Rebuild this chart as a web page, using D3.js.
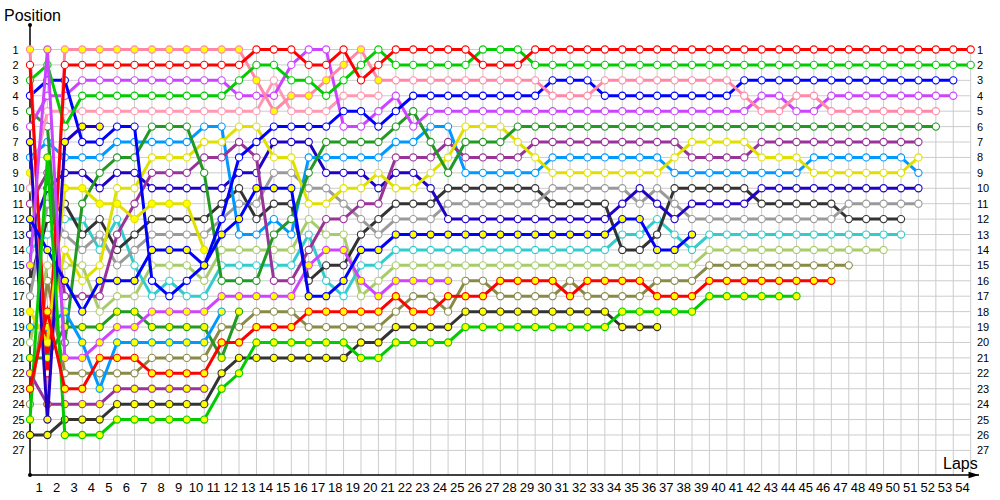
<!DOCTYPE html>
<html>
<head>
<meta charset="utf-8">
<script src="https://cdn.jsdelivr.net/npm/d3@7"></script>
<style>
  body { margin: 0; background: #fff; }
  svg { display: block; }
  text { font-family: "Liberation Sans", Arial, sans-serif; fill: #000; }
</style>
</head>
<body>
<svg id="chart" width="1000" height="500"></svg>
<script>
// lap-by-lap race position of every car, index = lap (0 = grid)
const lapCount = 54;
const maxPos = 27;

const pinkA   = [1,24,1,1,1,1,1,1,1,1,1,1,1, 3,5,4,4,3,2,1,3,3,3,3,3,3, 3,3,3,3,4,4,4,3,3,3,3,3,3,3,3, 4,5,5,4,4,5,5,5,5,5,5,5];
const red     = [2,22,2,2,2,2,2,2,2,2,2,2,2, 1,1,1,2,2,1,3,2,1,1,1,1,1, 2,2,2,1,1,1,1,1,1,1,1,1,1,1,1, 1,1,1,1,1,1,1,1,1,1,1,1,1,1];
const green   = [3,2,6,4,4,4,4,4,4,4,4,4,3, 2,2,3,3,4,3,2,1,2,2,2,2,2, 1,1,1,2,2,2,2,2,2,2,2,2,2,2,2, 2,2,2,2,2,2,2,2,2,2,2,2,2,2];
const magenta = [6,4,4,3,3,3,3,3,3,3,3,3,4, 4,4,2,1,1,6,6,5,4,6,5,5,5, 5,5,5,5,5,5,5,5,5,5,5,5,5,5,5, 5,4,4,5,5,4,4,4,4,4,4,4,4];
const pinkB   = [10,5,5,5,5,5,5,5,5,5,5,5,5, 5,3,5,5,5,4,4,4];
const blue    = [4,3,3,7,7,6,6,16,17,16,15,12,8, 7,6,6,6,6,5,5,6,5,4,4,4,4, 4,4,4,4,3,3,3,4,4,4,4,4,4,4,4, 3,3,3,3,3,3,3,3,3,3,3,3,3];
const dkGreen = [5,6,20,11,9,8,8,6,6,6,9,16,16, 16,13,12,9,7,7,7,7,6,5,7,9,7, 7,7,6,6,6,6,6,6,6,6,6,6,6,6,6, 6,6,6,6,6,6,6,6,6,6,6,6];
const yellow  = [9,20,14,16,15,10,10,8,8,8,7,7,6, 6,8,8,11,11,10,10,9,10,10,9,8,6, 6,6,7,8,9,9,9,9,9,9,9,8,7,7,7, 7,8,8,8,9,9,9,9,9,9,8];
const purple  = [11,9,17,17,17,13,11,9,9,9,8,8,7, 8,16,16,14,12,12,11,11,8,8,8,7,8, 8,8,8,7,7,7,7,7,7,7,7,7,8,8,8, 8,7,7,7,7,7,7,7,7,7,7];
const ltBlue  = [8,7,8,8,8,7,7,7,7,7,6,6,13, 13,12,13,8,8,8,8,8,7,7,6,6,9, 9,9,9,9,8,8,8,8,8,8,8,9,9,9,9, 9,9,9,9,8,8,8,8,8,8,9];
const navy    = [13,10,9,9,10,9,9,10,10,10,10,10,9, 9,7,7,7,9,9,9,10,9,9,10,12,12, 12,12,12,12,12,12,12,12,11,10,11,12,11,11,11, 11,10,10,10,10,10,10,10,10,10,10];
const gray    = [17,11,13,14,13,15,14,13,13,13,13,12,11, 11,9,9,10,10,11,12,13,12,12,12,11,11, 11,11,11,11,10,10,10,10,10,11,10,11,12,12,12, 12,12,12,12,12,12,11,11,11,11,11];
const dkGray  = [16,12,11,13,12,14,13,12,12,12,12,11,10, 12,11,11,16,15,15,13,12,11,11,11,10,10, 10,10,10,10,11,11,11,11,14,14,13,10,10,10,10, 10,11,11,11,11,11,12,12,12,12];
const cyan    = [14,13,12,12,14,12,15,17,16,17,17,15,15, 15,15,15,13,16,17,15,15,14,14,14,14,14, 14,14,14,14,14,14,14,14,13,13,12,13,14,13,13, 13,13,13,13,13,13,13,13,13,13];
const ltGreen = [20,15,15,15,18,17,17,15,15,15,16,14,14, 14,14,14,12,13,13,17,16,15,15,15,15,15, 15,15,15,15,15,15,15,15,15,15,15,15,15,14,14, 14,14,14,14,14,14,14,14,14];
const olive   = [24,16,22,22,22,22,22,21,21,21,21,19,19, 18,18,18,19,19,19,19,19,18,17,17,18,16, 16,17,17,17,17,16,17,17,17,17,16,16,16,15,15, 15,15,15,15,15,15,15];
const redY    = [23,18,23,23,21,21,21,22,22,22,22,20,20, 19,19,19,18,18,18,18,18,17,18,18,17,17, 17,16,16,16,16,17,16,16,16,16,17,17,17,16,16, 16,16,16,16,16,16];
const greenY  = [25,8,26,26,26,25,25,25,25,25,25,23,22, 20,20,20,20,20,20,21,21,20,20,20,20,19, 19,19,19,19,19,19,19,19,18,18,18,18,18,17,17, 17,17,17,17];
const blueY   = [12,14,16,18,16,16,16,14,14,14,15,13,12, 10,10,10,17,17,16,14,14,13,13,13,13,13, 13,13,13,13,13,13,13,13,12,12,14,14,13];
const dkGrayY = [26,26,25,25,25,24,24,24,24,24,24,22,21, 21,21,21,21,21,21,20,20,19,19,19,19,18, 18,18,18,18,18,18,18,18,19,19,19];
const magY    = [15,1,21,21,20,19,19,18,18,18,18,17,17, 17,17,17,15,14,14,16,17,16,16,16,16];
const navyY   = [7,25,7,6,6];
const yelY    = [18,20,10,10,11,11,12,11,11,11,14];
const ltBlueY = [19,19,18,20,23,20,20,20,20,20,20,18];
const dkGreenY= [21,21,19,19,19,18,18,19,19,19,19,21,18];
const purpleY = [22,24,24,24,24,23,23,23,23,23,23];

// series, colours and the laps shown with a yellow marker
const series  = [olive, ltGreen, cyan, dkGray, gray, navy, ltBlue, purple, yellow, dkGreen,
                 pinkB, magenta, blue, pinkA, green, red,
                 purpleY, dkGreenY, ltBlueY, yelY, navyY, magY, dkGrayY, blueY, greenY, redY];
const colors  = ["#8a8a48","#a9cc6a","#33cccc","#333333","#9a9a9a","#1f00c8","#0099ff","#993399","#e0e000","#229922",
                 "#ff99b4","#cc44ff","#0000ff","#ff88a8","#00cc00","#ff0000",
                 "#993399","#229922","#0099ff","#e0e000","#1f00c8","#cc44ff","#333333","#0000ff","#00cc00","#ff0000"];
const yellowFrom = [null,null,null,null,null,null,null,null,0,null,
                    null,null,null,0,null,null,
                    0,0,0,0,0,0,0,0,0,0];
const yellowTo   = [null,null,null,null,null,null,null,null,0,null,
                    null,null,null,20,null,null,
                    99,99,99,99,99,99,99,99,99,99];

const svg = d3.select("#chart");
const x = d3.scaleLinear().domain([0, lapCount]).range([30, 970.7]);
const y = d3.scaleLinear().domain([1, maxPos]).range([49.5, 450.4]);
const axisY = 475;

// grid
const grid = svg.append("g").attr("stroke", "#cccccc").attr("stroke-width", 1);
grid.selectAll("line.v").data(d3.range(0, lapCount + 1)).enter().append("line")
  .attr("x1", d => x(d)).attr("x2", d => x(d))
  .attr("y1", y(1) - 2).attr("y2", axisY);
grid.selectAll("line.h").data(d3.range(1, maxPos + 1)).enter().append("line")
  .attr("x1", x(0)).attr("x2", x(lapCount))
  .attr("y1", d => y(d)).attr("y2", d => y(d));

// position labels, left and right
const leftAxis = d3.axisRight(y).tickValues(d3.range(1, maxPos + 1)).tickSize(0).tickPadding(0);
svg.append("g").attr("transform", "translate(12.5,0)").call(leftAxis)
  .call(g => g.select(".domain").remove())
  .selectAll("text").attr("font-size", 11).attr("font-family", "Liberation Sans");
const rightAxis = d3.axisRight(y).tickValues(d3.range(1, maxPos + 1)).tickSize(0).tickPadding(0);
svg.append("g").attr("transform", "translate(977,0)").call(rightAxis)
  .call(g => g.select(".domain").remove())
  .selectAll("text").attr("font-size", 11).attr("font-family", "Liberation Sans");

// lap labels sit between the grid lines
const lapAxis = d3.axisBottom(x).tickValues(d3.range(0.5, lapCount, 1))
  .tickFormat(d => d + 0.5).tickSize(0).tickPadding(8);
svg.append("g").attr("transform", "translate(0," + axisY + ")").call(lapAxis)
  .call(g => g.select(".domain").remove())
  .selectAll("text").attr("font-size", 13).attr("font-family", "Liberation Sans");

// axes lines
svg.append("defs").append("marker").attr("id", "arrow")
  .attr("viewBox", "0 0 10 10").attr("refX", 10).attr("refY", 5)
  .attr("markerWidth", 10).attr("markerHeight", 7).attr("orient", "auto")
  .append("path").attr("d", "M0,2 L10,5 L0,8 Z").attr("fill", "#000");
svg.append("line").attr("x1", 30).attr("x2", 30).attr("y1", 25).attr("y2", axisY)
  .attr("stroke", "#000").attr("stroke-width", 1.5);
svg.append("line").attr("x1", 30).attr("x2", 979).attr("y1", axisY).attr("y2", axisY)
  .attr("stroke", "#000").attr("stroke-width", 1.5).attr("marker-end", "url(#arrow)");
svg.append("circle").attr("cx", 30).attr("cy", 25).attr("r", 2).attr("fill", "#000");
svg.append("circle").attr("cx", 30).attr("cy", axisY).attr("r", 2).attr("fill", "#000");

svg.append("text").attr("x", 4).attr("y", 21).attr("font-size", 16).text("Position");
svg.append("text").attr("x", 943).attr("y", 469).attr("font-size", 16).text("Laps");

// cars: sharp joins like the original (the spikes at laps 1-2 come from them)
const line = d3.line().x((d, i) => x(i)).y(d => y(d));
series.forEach((s, k) => {
  const g = svg.append("g");
  g.append("path").attr("d", line(s)).attr("fill", "none")
    .attr("stroke", colors[k]).attr("stroke-width", 3)
    .attr("stroke-linejoin", "miter").attr("stroke-miterlimit", 10);
  g.selectAll("circle").data(s).enter().append("circle")
    .attr("cx", (d, i) => x(i)).attr("cy", d => y(d)).attr("r", 3.6)
    .attr("fill", (d, i) => (yellowFrom[k] !== null && i >= yellowFrom[k] && i <= yellowTo[k]) ? "#ffff00" : "#fff")
    .attr("stroke", colors[k]).attr("stroke-width", 1.1);
});
</script>
</body>
</html>
